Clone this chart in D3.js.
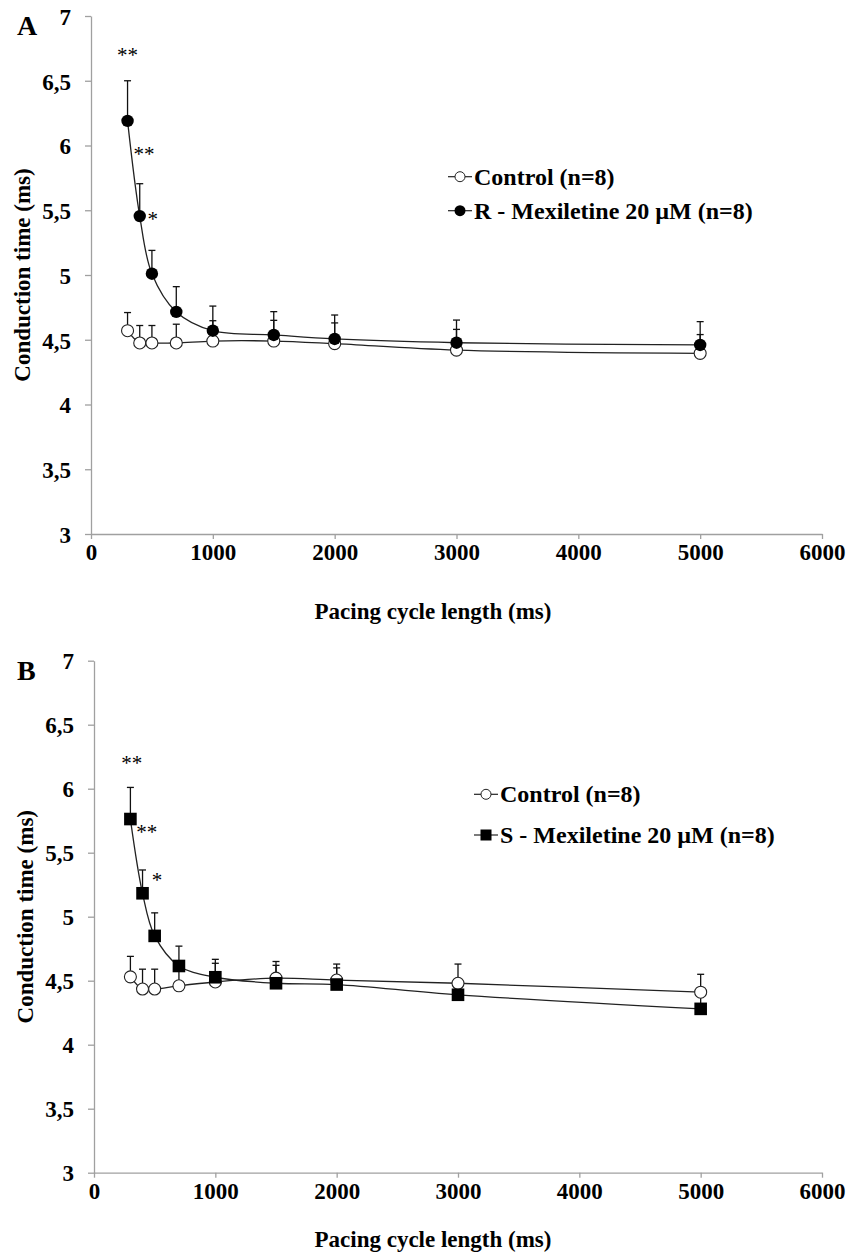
<!DOCTYPE html>
<html>
<head>
<meta charset="utf-8">
<title>Conduction time vs pacing cycle length</title>
<script src="https://d3js.org/d3.v7.min.js"></script>
<style>
  body { margin: 0; background: #fff; }
  svg text { font-family: "Liberation Serif", "DejaVu Serif", "Times New Roman", serif; font-weight: bold; fill: #000; }
  .axis path, .axis line { stroke: #a0a0a0; stroke-width: 1.3px; }
  .axis text { font-size: 23px; font-family: "Liberation Serif", "DejaVu Serif", serif; }
  .series { fill: none; stroke: #222; stroke-width: 1.3px; }
  .err { stroke: #111; stroke-width: 1.3px; }
  svg text.star { font-weight: normal; font-size: 21px; }
</style>
</head>
<body>
<script>

// pacing cycle length (ms)
var cycleLengths = [300, 400, 500, 700, 1000, 1500, 2000, 3000, 5000];

// panel A
var controlA    = [4.57, 4.475, 4.475, 4.475, 4.49, 4.49, 4.47, 4.42, 4.395];
var controlAErr = [0.14, 0.135, 0.135, 0.145, 0.157, 0.16, 0.16, 0.16, 0.145];
var mexR        = [6.19, 5.455, 5.01, 4.715, 4.57, 4.537, 4.506, 4.477, 4.46];
var mexRErr     = [0.31, 0.25, 0.18, 0.195, 0.19, 0.18, 0.185, 0.175, 0.18];

// panel B
var controlB    = [4.53, 4.435, 4.435, 4.46, 4.49, 4.52, 4.505, 4.48, 4.41];
var controlBErr = [0.16, 0.155, 0.155, 0.15, 0.146, 0.13, 0.125, 0.15, 0.14];
var mexS        = [5.763, 5.183, 4.85, 4.615, 4.527, 4.48, 4.47, 4.39, 4.28];
var mexSErr     = [0.247, 0.182, 0.18, 0.155, 0.14, 0.14, 0.13, 0.09, 0.11];

// significance marks [cycle length, y value, text]
var starsA = [[300, 6.72, "**"], [436, 5.96, "**"], [507, 5.456, "*"]];
var starsB = [[311, 6.224, "**"], [434, 5.6875, "**"], [519, 5.3125, "*"]];

var yTicks = [3, 3.5, 4, 4.5, 5, 5.5, 6, 6.5, 7];
var xTicks = [0, 1000, 2000, 3000, 4000, 5000, 6000];

var svg = d3.select("body").append("svg")
    .attr("width", 847)
    .attr("height", 1257);

function drawPanel(p) {
  var x = d3.scaleLinear().domain([0, 6000]).range([p.left, p.right]);
  var y = d3.scaleLinear().domain([3, 7]).range([p.bottom, p.top]);
  var g = svg.append("g");

  // axes
  var ya = g.append("g").attr("class", "axis")
      .attr("transform", "translate(" + p.left + ",0)")
      .call(d3.axisLeft(y).tickValues(yTicks).tickSize(6).tickSizeOuter(0).tickPadding(14)
        .tickFormat(function (d) { return String(d).replace(".", ","); }));
  ya.attr("font-family", null).attr("font-size", null);
  ya.selectAll("text").attr("dy", "0.36em");

  var xa = g.append("g").attr("class", "axis")
      .attr("transform", "translate(0," + p.bottom + ")")
      .call(d3.axisBottom(x).tickValues(xTicks).tickSize(5).tickSizeOuter(0).tickPadding(5)
        .tickFormat(d3.format("d")));
  xa.attr("font-family", null).attr("font-size", null);
  xa.selectAll("text").attr("dy", "0.71em");
  g.selectAll(".axis .domain").attr("stroke", "#a0a0a0");

  // axis titles
  g.append("text")
    .attr("transform", "translate(" + (p.left - 61) + "," + ((p.top + p.bottom) / 2) + ") rotate(-90)")
    .attr("text-anchor", "middle")
    .style("font-size", "23px")
    .text("Conduction time (ms)");
  g.append("text")
    .attr("x", 433).attr("y", p.bottom + p.titleGap)
    .attr("text-anchor", "middle")
    .style("font-size", "23px")
    .text("Pacing cycle length (ms)");

  // panel letter
  g.append("text")
    .attr("x", 17).attr("y", p.top + 19)
    .style("font-size", "28px")
    .text(p.letter);

  var ctrl = cycleLengths.map(function (c, i) { return { c: c, v: p.ctrl[i], e: p.ctrlErr[i] }; });
  var drug = cycleLengths.map(function (c, i) { return { c: c, v: p.drug[i], e: p.drugErr[i] }; });

  // error bars (upper only)
  [ctrl, drug].forEach(function (s) {
    var eb = g.append("g").selectAll("g").data(s).enter().append("g");
    eb.append("line").attr("class", "err")
      .attr("x1", function (d) { return x(d.c); }).attr("x2", function (d) { return x(d.c); })
      .attr("y1", function (d) { return y(d.v); }).attr("y2", function (d) { return y(d.v + d.e); });
    eb.append("line").attr("class", "err")
      .attr("x1", function (d) { return x(d.c) - 3.5; }).attr("x2", function (d) { return x(d.c) + 3.5; })
      .attr("y1", function (d) { return y(d.v + d.e); }).attr("y2", function (d) { return y(d.v + d.e); });
  });

  var line = d3.line()
    .x(function (d) { return x(d.c); })
    .y(function (d) { return y(d.v); })
    .curve(d3.curveCatmullRom.alpha(0.5));

  g.append("path").datum(ctrl).attr("class", "series").attr("d", line);
  g.append("path").datum(drug).attr("class", "series").attr("d", line);

  // control markers: open circles
  g.selectAll(null).data(ctrl).enter().append("circle")
    .attr("cx", function (d) { return x(d.c); })
    .attr("cy", function (d) { return y(d.v); })
    .attr("r", 6)
    .attr("fill", "#fff").attr("stroke", "#222").attr("stroke-width", 1.1);

  // drug markers
  if (p.marker === "circle") {
    g.selectAll(null).data(drug).enter().append("circle")
      .attr("cx", function (d) { return x(d.c); })
      .attr("cy", function (d) { return y(d.v); })
      .attr("r", 6.2).attr("fill", "#000");
  } else {
    g.selectAll(null).data(drug).enter().append("rect")
      .attr("x", function (d) { return x(d.c) - 6.3; })
      .attr("y", function (d) { return y(d.v) - 6.3; })
      .attr("width", 12.6).attr("height", 12.6).attr("fill", "#000");
  }

  // significance marks
  g.selectAll(null).data(p.stars).enter().append("text")
    .attr("class", "star")
    .attr("x", function (d) { return x(d[0]); })
    .attr("y", function (d) { return y(d[1]) + 10; })
    .attr("text-anchor", "middle")
    .text(function (d) { return d[2]; });

  // legend
  var lg = g.append("g");
  [[p.legendY[0], "ctrl", "Control (n=8)"], [p.legendY[1], p.marker, p.drugName]].forEach(function (r) {
    lg.append("line")
      .attr("x1", p.legendX - 12).attr("x2", p.legendX + 12)
      .attr("y1", r[0]).attr("y2", r[0])
      .attr("stroke", "#222").attr("stroke-width", 1.2);
    if (r[1] === "ctrl") {
      lg.append("circle").attr("cx", p.legendX).attr("cy", r[0]).attr("r", 5)
        .attr("fill", "#fff").attr("stroke", "#222").attr("stroke-width", 1);
    } else if (r[1] === "circle") {
      lg.append("circle").attr("cx", p.legendX).attr("cy", r[0]).attr("r", 5.5).attr("fill", "#000");
    } else {
      lg.append("rect").attr("x", p.legendX - 5.5).attr("y", r[0] - 5.5)
        .attr("width", 11).attr("height", 11).attr("fill", "#000");
    }
    lg.append("text")
      .attr("x", p.legendX + 14).attr("y", r[0] + 8)
      .style("font-size", "24px")
      .text(r[2]);
  });
}

drawPanel({
  letter: "A", left: 91, right: 822, top: 16, bottom: 534, titleGap: 85,
  ctrl: controlA, ctrlErr: controlAErr, drug: mexR, drugErr: mexRErr,
  marker: "circle", drugName: "R - Mexiletine 20 \u00b5M (n=8)",
  stars: starsA, legendX: 460, legendY: [176.7, 210.7]
});

drawPanel({
  letter: "B", left: 94, right: 822, top: 660.7, bottom: 1172.7, titleGap: 74,
  ctrl: controlB, ctrlErr: controlBErr, drug: mexS, drugErr: mexSErr,
  marker: "square", drugName: "S - Mexiletine 20 \u00b5M (n=8)",
  stars: starsB, legendX: 486, legendY: [794.3, 835]
});

</script>
</body>
</html>
